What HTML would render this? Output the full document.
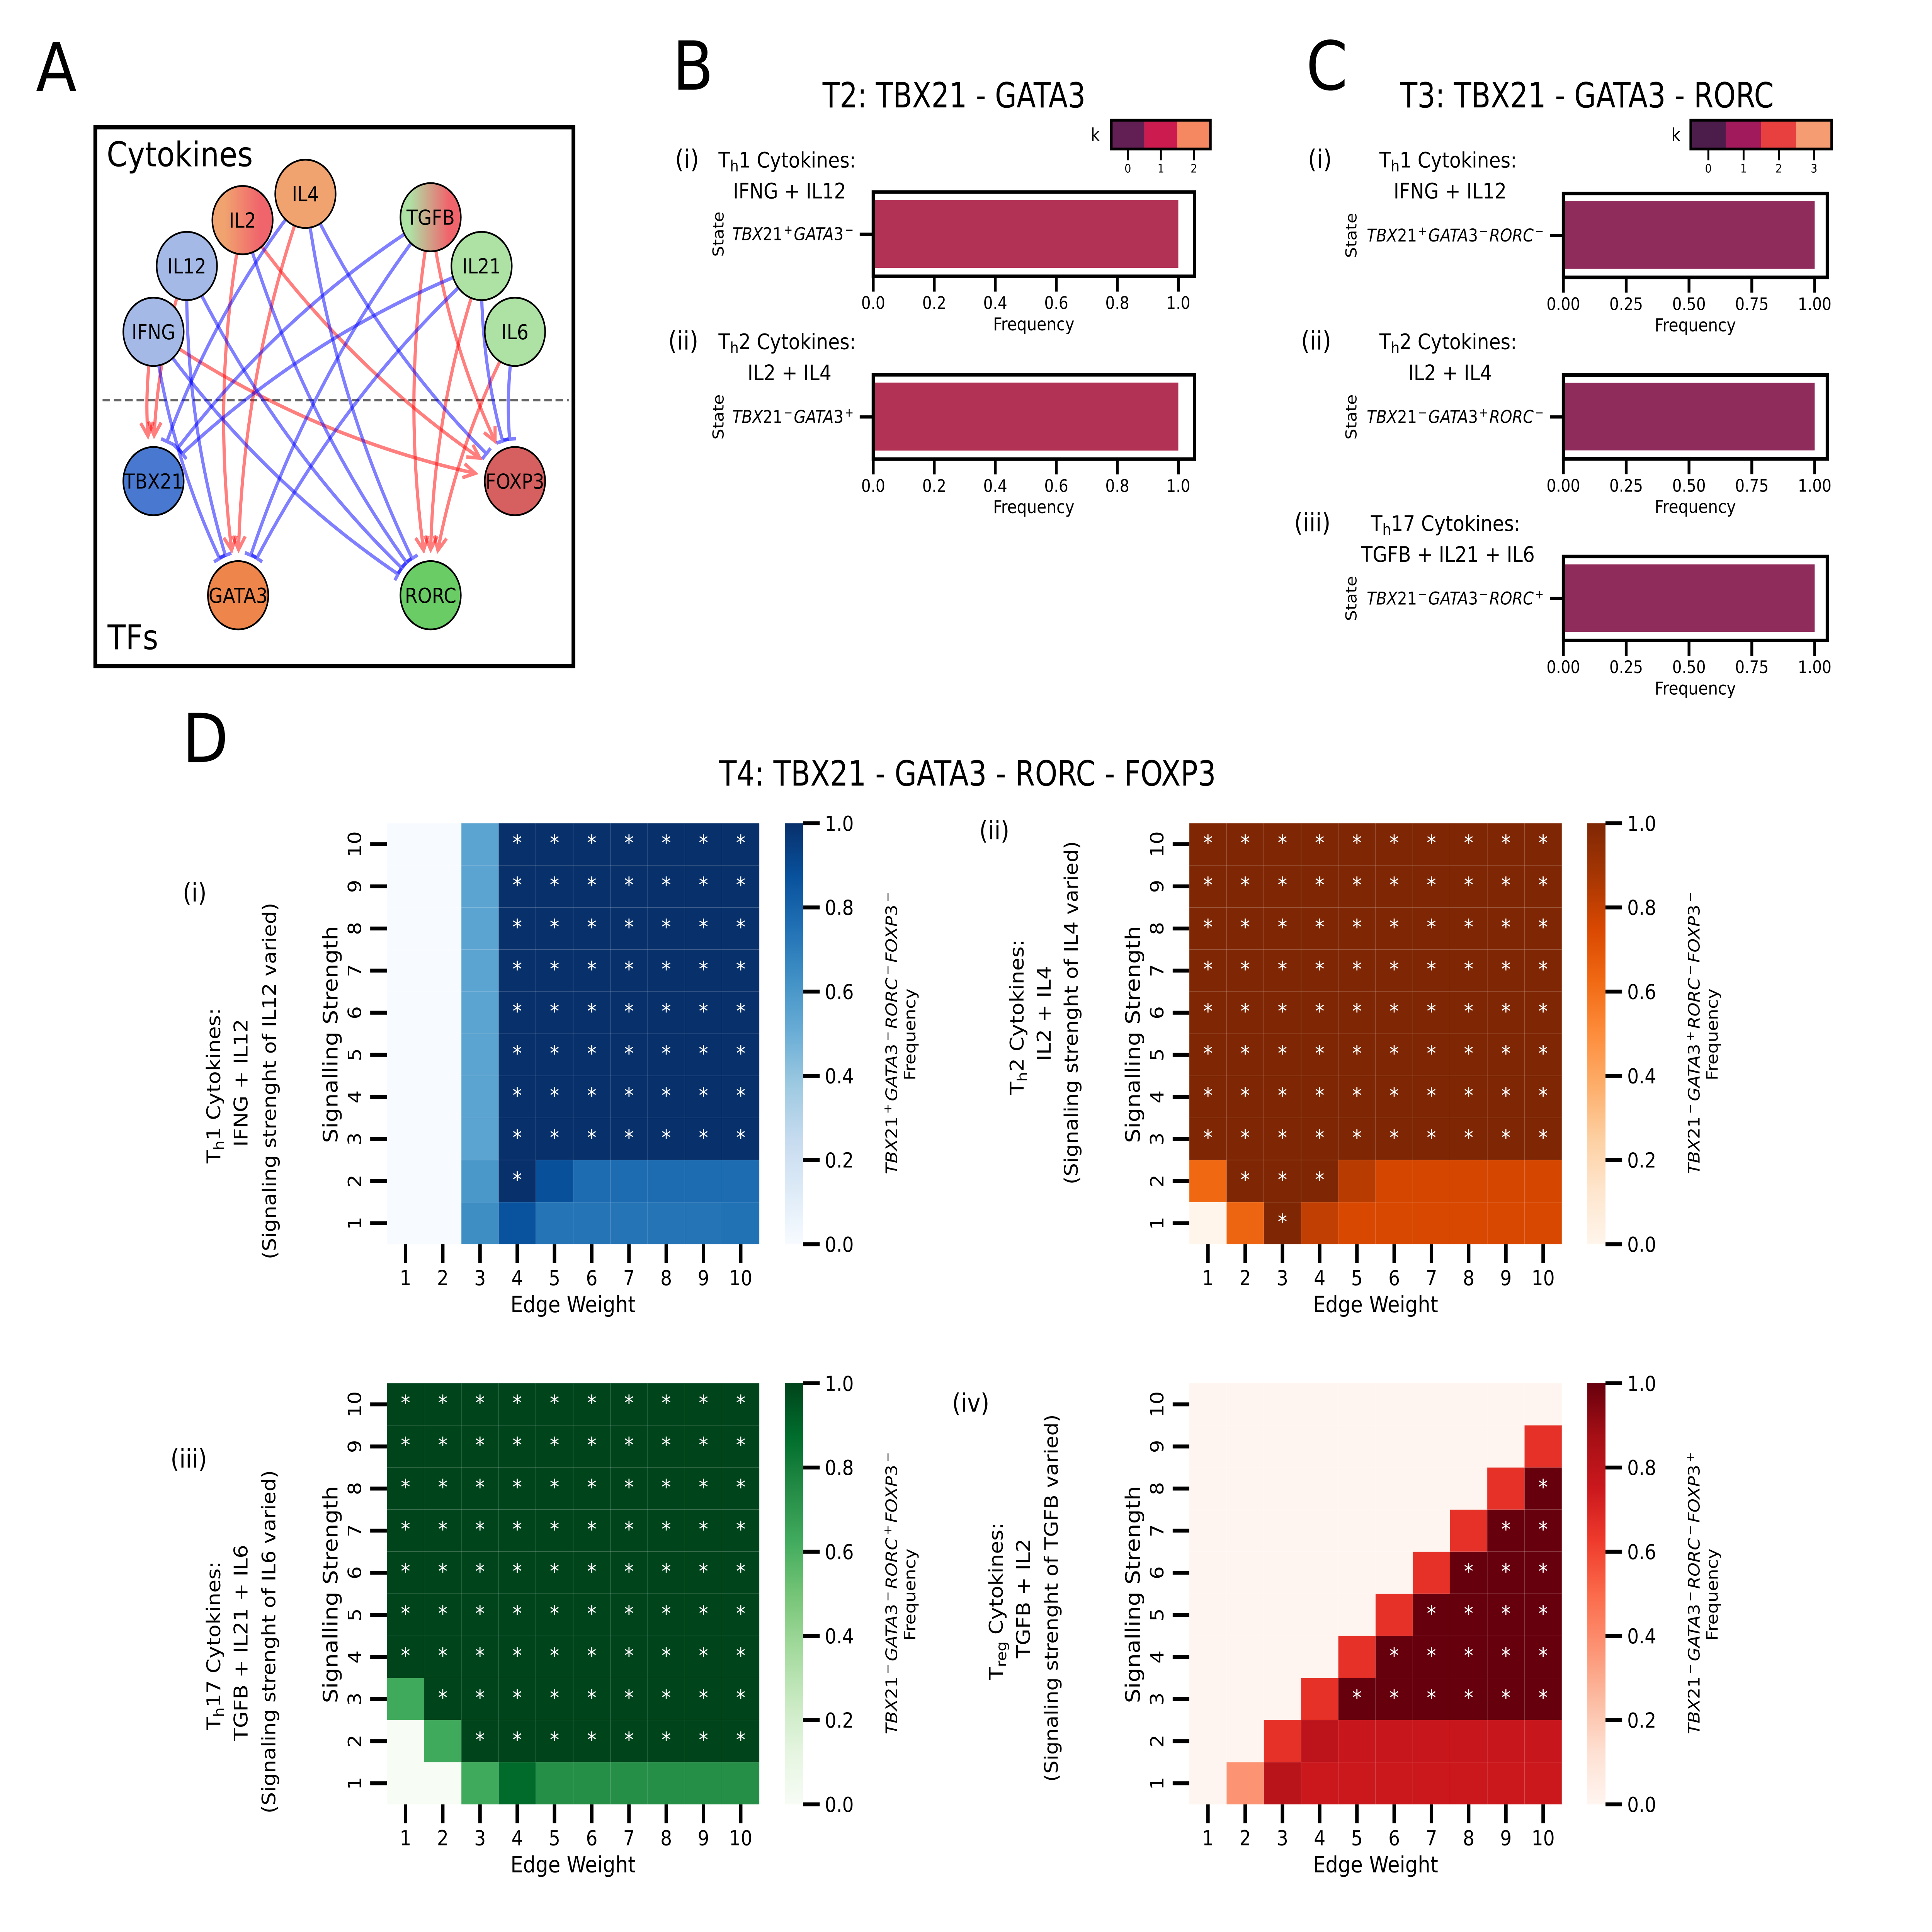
<!DOCTYPE html>
<html lang="en">
<head>
<meta charset="utf-8">
<title>T helper cell network and state frequency figure</title>
<style>
html,body{margin:0;padding:0;background:#fff;width:100%;height:100%;overflow:hidden;}
svg{display:block;width:100vw;height:100vh;}
text{font-family:"DejaVu Sans","Liberation Sans",sans-serif;fill:#000;}
</style>
</head>
<body>
<svg id="figure" xmlns="http://www.w3.org/2000/svg" viewBox="0 0 6142 5433" preserveAspectRatio="none">
<defs>
<linearGradient id="grad-il2" x1="0" x2="1" y1="0" y2="0"><stop offset="0.2" stop-color="#f0a36f"/><stop offset="0.8" stop-color="#f0646c"/></linearGradient>
<linearGradient id="grad-tgfb" x1="0" x2="1" y1="0" y2="0"><stop offset="0.15" stop-color="#aee2a5"/><stop offset="0.8" stop-color="#f0646c"/></linearGradient>
</defs>
<rect x="0" y="0" width="6142" height="5433" fill="#fff"/>

<!-- Panel letters -->
<text x="114" y="256" font-size="190">A</text>
<text x="2138" y="252" font-size="190">B</text>
<text x="4152" y="252" font-size="190">C</text>
<text x="580" y="2143" font-size="190">D</text>

<!-- Titles -->
<text x="3033" y="302" font-size="98" text-anchor="middle" textLength="836" lengthAdjust="spacingAndGlyphs">T2: TBX21 - GATA3</text>
<text x="5045" y="302" font-size="98" text-anchor="middle" textLength="1188" lengthAdjust="spacingAndGlyphs">T3: TBX21 - GATA3 - RORC</text>
<text x="3076" y="2209" font-size="98" text-anchor="middle" textLength="1579" lengthAdjust="spacingAndGlyphs">T4: TBX21 - GATA3 - RORC - FOXP3</text>

<!-- Panel A: network -->
<g>
<rect x="303" y="358" width="1520" height="1515" fill="none" stroke="#000" stroke-width="12"/>
<line x1="326" x2="1808" y1="1125" y2="1125" stroke="#666" stroke-width="7" stroke-dasharray="24 12"/>
<text x="339" y="468" font-size="96" textLength="465" lengthAdjust="spacingAndGlyphs">Cytokines</text>
<text x="342" y="1826" font-size="96" textLength="161" lengthAdjust="spacingAndGlyphs">TFs</text>
<g id="edges"></g>
<g id="nodes" stroke="#000" stroke-width="5">
<circle id="node-IL4" cx="971" cy="545" r="96" fill="#f0a36f"/>
<circle id="node-IL2" cx="771" cy="619" r="96" fill="url(#grad-il2)"/>
<circle id="node-IL12" cx="594" cy="748" r="96" fill="#a5b9e7"/>
<circle id="node-IFNG" cx="488" cy="933" r="96" fill="#a5b9e7"/>
<circle id="node-TGFB" cx="1369" cy="611" r="96" fill="url(#grad-tgfb)"/>
<circle id="node-IL21" cx="1531" cy="748" r="96" fill="#aee2a5"/>
<circle id="node-IL6" cx="1637" cy="933" r="96" fill="#aee2a5"/>
<circle id="node-TBX21" cx="488" cy="1353" r="96" fill="#4878d0"/>
<circle id="node-FOXP3" cx="1637" cy="1353" r="96" fill="#d65f5f"/>
<circle id="node-GATA3" cx="757" cy="1674" r="96" fill="#ee854a"/>
<circle id="node-RORC" cx="1369" cy="1674" r="96" fill="#6acc64"/>
</g>
<g font-size="58" text-anchor="middle">
<text x="971" y="566">IL4</text>
<text x="771" y="640">IL2</text>
<text x="594" y="769">IL12</text>
<text x="488" y="954">IFNG</text>
<text x="1369" y="632">TGFB</text>
<text x="1531" y="769">IL21</text>
<text x="1637" y="954">IL6</text>
<text x="488" y="1374">TBX21</text>
<text x="1637" y="1374">FOXP3</text>
<text x="757" y="1695">GATA3</text>
<text x="1369" y="1695">RORC</text>
</g>
</g>

<!-- Panel B side labels -->
<g font-size="60">
<text x="2146" y="472" font-size="72">(i)</text>
<text x="2284" y="471">T<tspan dy="11" font-size="44">h</tspan><tspan dy="-11">1 Cytokines:</tspan></text>
<text x="2510" y="558" text-anchor="middle">IFNG + IL12</text>
<text x="2124" y="983" font-size="72">(ii)</text>
<text x="2284" y="982">T<tspan dy="11" font-size="44">h</tspan><tspan dy="-11">2 Cytokines:</tspan></text>
<text x="2510" y="1069" text-anchor="middle">IL2 + IL4</text>
</g>

<!-- Panel C side labels -->
<g font-size="60">
<text x="4158" y="472" font-size="72">(i)</text>
<text x="4385" y="471">T<tspan dy="11" font-size="44">h</tspan><tspan dy="-11">1 Cytokines:</tspan></text>
<text x="4610" y="558" text-anchor="middle">IFNG + IL12</text>
<text x="4136" y="983" font-size="72">(ii)</text>
<text x="4385" y="982">T<tspan dy="11" font-size="44">h</tspan><tspan dy="-11">2 Cytokines:</tspan></text>
<text x="4610" y="1069" text-anchor="middle">IL2 + IL4</text>
<text x="4114" y="1494" font-size="72">(iii)</text>
<text x="4358" y="1493">T<tspan dy="11" font-size="44">h</tspan><tspan dy="-11">17 Cytokines:</tspan></text>
<text x="4603" y="1580" text-anchor="middle">TGFB + IL21 + IL6</text>
</g>

<!-- Panel D side labels -->
<g font-size="60" text-anchor="middle">
<text x="619" y="2535" font-size="72">(i)</text>
<g>
<text transform="translate(700,3053) rotate(-90)">T<tspan dy="11" font-size="44">h</tspan><tspan dy="-11">1 Cytokines:</tspan></text>
<text transform="translate(787,3045) rotate(-90)">IFNG + IL12</text>
<text transform="translate(877,3040) rotate(-90)" font-size="58.6">(Signaling strenght of IL12 varied)</text>
</g>
<text x="3161" y="2360" font-size="72">(ii)</text>
<g>
<text transform="translate(3254,2860) rotate(-90)">T<tspan dy="11" font-size="44">h</tspan><tspan dy="-11">2 Cytokines:</tspan></text>
<text transform="translate(3340,2850) rotate(-90)">IL2 + IL4</text>
<text transform="translate(3426,2848) rotate(-90)" font-size="58.6">(Signaling strenght of IL4 varied)</text>
</g>
<text x="600" y="4127" font-size="72">(iii)</text>
<g>
<text transform="translate(700,4628) rotate(-90)">T<tspan dy="11" font-size="44">h</tspan><tspan dy="-11">17 Cytokines:</tspan></text>
<text transform="translate(787,4620) rotate(-90)">TGFB + IL21 + IL6</text>
<text transform="translate(875,4617) rotate(-90)" font-size="58.6">(Signaling strenght of IL6 varied)</text>
</g>
<text x="3086" y="3970" font-size="72">(iv)</text>
<g>
<text transform="translate(3188,4503) rotate(-90)">T<tspan dy="11" font-size="44">reg</tspan><tspan dy="-11"> Cytokines:</tspan></text>
<text transform="translate(3274,4495) rotate(-90)">TGFB + IL2</text>
<text transform="translate(3363,4494) rotate(-90)" font-size="58.6">(Signaling strenght of TGFB varied)</text>
</g>
</g>

<g id="t2-charts"></g>
<g id="t3-charts"></g>
<g id="t4-charts"></g>
</svg>

<script>
/* ---------- Network edges (source, target) ---------- */
const activatingEdges = [
  ["IFNG","TBX21"],["IL12","TBX21"],["IFNG","FOXP3"],["IL2","GATA3"],["IL4","GATA3"],
  ["IL2","FOXP3"],["TGFB","RORC"],["TGFB","FOXP3"],["IL21","RORC"],["IL6","RORC"]
];
const inhibitingEdges = [
  ["IFNG","GATA3"],["IFNG","RORC"],["IL12","GATA3"],["IL12","RORC"],["IL2","RORC"],
  ["IL4","TBX21"],["IL4","RORC"],["IL4","FOXP3"],["TGFB","TBX21"],["TGFB","GATA3"],
  ["IL21","TBX21"],["IL21","GATA3"],["IL21","FOXP3"],["IL6","FOXP3"]
];

/* ---------- T2 / T3 bar chart data ---------- */
const t2Genes = ["TBX21","GATA3"];
const t2States = [["+","−"],["−","+"]];
const t2Frequencies = [1.0,1.0];
const t2TickValues = [0,0.2,0.4,0.6,0.8,1.0];
const t2TickLabels = ["0.0","0.2","0.4","0.6","0.8","1.0"];
const t2KLabels = ["0","1","2"];
const t2KColors = ["#611f53","#cb1b4f","#f58860"];

const t3Genes = ["TBX21","GATA3","RORC"];
const t3States = [["+","−","−"],["−","+","−"],["−","−","+"]];
const t3Frequencies = [1.0,1.0,1.0];
const t3TickValues = [0,0.25,0.5,0.75,1.0];
const t3TickLabels = ["0.00","0.25","0.50","0.75","1.00"];
const t3KLabels = ["0","1","2","3"];
const t3KColors = ["#4c1d4b","#a11a5b","#e83f3f","#f69c73"];

/* ---------- T4 heatmap data: first row is signalling strength 10 ---------- */
const edgeWeights = ["1","2","3","4","5","6","7","8","9","10"];
const signalStrengths = ["10","9","8","7","6","5","4","3","2","1"];
const colorbarTicks = [0,0.2,0.4,0.6,0.8,1.0];
const colorbarTickLabels = ["0.0","0.2","0.4","0.6","0.8","1.0"];

const th1Frequency = [
  [0,0,0.55,1,1,1,1,1,1,1],
  [0,0,0.55,1,1,1,1,1,1,1],
  [0,0,0.55,1,1,1,1,1,1,1],
  [0,0,0.55,1,1,1,1,1,1,1],
  [0,0,0.55,1,1,1,1,1,1,1],
  [0,0,0.55,1,1,1,1,1,1,1],
  [0,0,0.55,1,1,1,1,1,1,1],
  [0,0,0.55,1,1,1,1,1,1,1],
  [0,0,0.6,1,0.88,0.77,0.77,0.77,0.77,0.77],
  [0,0,0.64,0.87,0.74,0.74,0.74,0.74,0.74,0.75]
];
const th2Frequency = [
  [1,1,1,1,1,1,1,1,1,1],
  [1,1,1,1,1,1,1,1,1,1],
  [1,1,1,1,1,1,1,1,1,1],
  [1,1,1,1,1,1,1,1,1,1],
  [1,1,1,1,1,1,1,1,1,1],
  [1,1,1,1,1,1,1,1,1,1],
  [1,1,1,1,1,1,1,1,1,1],
  [1,1,1,1,1,1,1,1,1,1],
  [0.63,1,1,1,0.83,0.76,0.76,0.76,0.76,0.76],
  [0,0.64,1,0.81,0.75,0.75,0.75,0.75,0.75,0.75]
];
const th17Frequency = [
  [1,1,1,1,1,1,1,1,1,1],
  [1,1,1,1,1,1,1,1,1,1],
  [1,1,1,1,1,1,1,1,1,1],
  [1,1,1,1,1,1,1,1,1,1],
  [1,1,1,1,1,1,1,1,1,1],
  [1,1,1,1,1,1,1,1,1,1],
  [1,1,1,1,1,1,1,1,1,1],
  [0.63,1,1,1,1,1,1,1,1,1],
  [0,0.63,1,1,1,1,1,1,1,1],
  [0,0,0.63,0.88,0.74,0.74,0.74,0.74,0.74,0.74]
];
const tregFrequency = [
  [0,0,0,0,0,0,0,0,0,0],
  [0,0,0,0,0,0,0,0,0,0.66],
  [0,0,0,0,0,0,0,0,0.66,1],
  [0,0,0,0,0,0,0,0.66,1,1],
  [0,0,0,0,0,0,0.66,1,1,1],
  [0,0,0,0,0,0.66,1,1,1,1],
  [0,0,0,0,0.66,1,1,1,1,1],
  [0,0,0,0.66,1,1,1,1,1,1],
  [0,0,0.66,0.8,0.76,0.76,0.76,0.76,0.76,0.76],
  [0,0.37,0.81,0.75,0.75,0.75,0.75,0.75,0.75,0.75]
];

const bluesStops = ["#f7fbff","#deebf7","#c6dbef","#9ecae1","#6baed6","#4292c6","#2171b5","#08519c","#08306b"];
const orangesStops = ["#fff5eb","#fee6ce","#fdd0a2","#fdae6b","#fd8d3c","#f16913","#d94801","#a63603","#7f2704"];
const greensStops = ["#f7fcf5","#e5f5e0","#c7e9c0","#a1d99b","#74c476","#41ab5d","#238b45","#006d2c","#00441b"];
const redsStops = ["#fff5f0","#fee0d2","#fcbba1","#fc9272","#fb6a4a","#ef3b2c","#cb181d","#a50f15","#67000d"];

const starThreshold = 0.95;

/* ---------- helpers ---------- */
const SVG_NS = "http://www.w3.org/2000/svg";
function make(tag, attrs, parent) {
  const node = document.createElementNS(SVG_NS, tag);
  for (const k in attrs) node.setAttribute(k, attrs[k]);
  if (parent) parent.appendChild(node);
  return node;
}
function hexToRgb(h) {
  return [parseInt(h.slice(1,3),16),parseInt(h.slice(3,5),16),parseInt(h.slice(5,7),16)];
}
function cmap(stops, v) {
  const p = Math.max(0, Math.min(1, v)) * (stops.length - 1);
  const i = Math.min(Math.floor(p), stops.length - 2);
  const f = p - i;
  const a = hexToRgb(stops[i]), b = hexToRgb(stops[i + 1]);
  return "rgb(" + a.map((c, n) => Math.round(c + (b[n] - c) * f)).join(",") + ")";
}
function writeStateLabel(textEl, genes, signs, size, gap) {
  genes.forEach(function (gene, i) {
    const m = gene.match(/^([A-Z]+?)(\d*)$/);
    const geneAttrs = {"font-style":"italic"};
    if (i > 0) {
      geneAttrs.dy = size * 0.36;
      geneAttrs.dx = size * gap;
    }
    const it = make("tspan", geneAttrs, textEl);
    it.textContent = m[1];
    if (m[2]) {
      const num = make("tspan", {}, textEl);
      num.textContent = m[2];
    }
    const sup = make("tspan", {dy: -size * 0.36, dx: size * gap, "font-size": size * 0.7}, textEl);
    sup.textContent = signs[i];
  });
}

/* ---------- network ---------- */
function nodePos(name) {
  const c = document.getElementById("node-" + name);
  return [parseFloat(c.getAttribute("cx")), parseFloat(c.getAttribute("cy"))];
}
function truncatedCurve(a, b, gap) {
  const mx = (a[0] + b[0]) / 2, my = (a[1] + b[1]) / 2;
  const rad = 0.1;
  const c = [mx - rad * (b[1] - a[1]), my + rad * (b[0] - a[0])];
  let t = 1;
  const at = u => [
    (1-u)*(1-u)*a[0] + 2*(1-u)*u*c[0] + u*u*b[0],
    (1-u)*(1-u)*a[1] + 2*(1-u)*u*c[1] + u*u*b[1]
  ];
  while (t > 0) {
    const p = at(t);
    if (Math.hypot(p[0]-b[0], p[1]-b[1]) >= gap) break;
    t -= 0.001;
  }
  const ctrl = [a[0] + (c[0]-a[0]) * t, a[1] + (c[1]-a[1]) * t];
  const end = at(t);
  const len = Math.hypot(end[0]-ctrl[0], end[1]-ctrl[1]);
  return {ctrl: ctrl, end: end, dir: [(end[0]-ctrl[0])/len, (end[1]-ctrl[1])/len]};
}
const edgeLayer = document.getElementById("edges");
function f1(n){ return n.toFixed(1); }
activatingEdges.forEach(function (edge) {
  const a = nodePos(edge[0]), b = nodePos(edge[1]);
  const k = truncatedCurve(a, b, 128);
  const w1 = [k.end[0]-k.dir[0]*38-k.dir[1]*20, k.end[1]-k.dir[1]*38+k.dir[0]*20];
  const w2 = [k.end[0]-k.dir[0]*38+k.dir[1]*20, k.end[1]-k.dir[1]*38-k.dir[0]*20];
  const d = "M"+f1(a[0])+" "+f1(a[1])+"Q"+f1(k.ctrl[0])+" "+f1(k.ctrl[1])+" "+f1(k.end[0])+" "+f1(k.end[1])+
            "M"+f1(w1[0])+" "+f1(w1[1])+"L"+f1(k.end[0])+" "+f1(k.end[1])+"L"+f1(w2[0])+" "+f1(w2[1]);
  const path = make("path", {d:d, fill:"none", stroke:"#ff0000", "stroke-opacity":0.5, "stroke-width":10}, edgeLayer);
  
  
});
inhibitingEdges.forEach(function (edge) {
  const a = nodePos(edge[0]), b = nodePos(edge[1]);
  const k = truncatedCurve(a, b, 119);
  const w1 = [k.end[0]-k.dir[1]*20, k.end[1]+k.dir[0]*20];
  const w2 = [k.end[0]+k.dir[1]*20, k.end[1]-k.dir[0]*20];
  const d = "M"+f1(a[0])+" "+f1(a[1])+"Q"+f1(k.ctrl[0])+" "+f1(k.ctrl[1])+" "+f1(k.end[0])+" "+f1(k.end[1])+
            "M"+f1(w1[0])+" "+f1(w1[1])+"L"+f1(w2[0])+" "+f1(w2[1]);
  const path = make("path", {d:d, fill:"none", stroke:"#0000ff", "stroke-opacity":0.5, "stroke-width":10}, edgeLayer);
  
  
});

/* ---------- bar charts ---------- */
function drawBarAxes(parent, freq, genes, signs, tickValues, tickLabels, color, ax) {
  const g = make("g", {}, parent);
  
  
  const xScale = v => ax.zero + v * (ax.one - ax.zero);
  const midY = (ax.top + ax.bottom) / 2;
  const bar = make("rect", {x: xScale(0), y: ax.top + 22, width: xScale(freq) - xScale(0), height: ax.bottom - ax.top - 46, fill: color}, g);
  
  
  const frame = make("rect", {x: ax.zero, y: ax.top, width: ax.right - ax.zero, height: ax.bottom - ax.top, fill: "none", stroke: "#000", "stroke-width": 10}, g);
  
  
  const yTick = make("line", {x1: ax.zero - 43, x2: ax.zero, y1: midY, y2: midY, stroke: "#000", "stroke-width": 9}, g);
  
  
  const stateLabel = make("text", {x: ax.labelEnd, y: midY + 17, "font-size": 49, "text-anchor": "end"}, g);
  
  
  writeStateLabel(stateLabel, genes, signs, 49, 0.075);
  const yTitle = make("text", {transform: "translate(" + ax.stateX + "," + midY + ") rotate(-90)", "font-size": 48, "text-anchor": "middle"}, g);
  
  
  yTitle.textContent = "State";
  tickValues.forEach(function (v, i) {
    const tick = make("line", {x1: xScale(v), x2: xScale(v), y1: ax.bottom, y2: ax.bottom + 43, stroke: "#000", "stroke-width": 9}, g);
    
    
    const lab = make("text", {x: xScale(v), y: ax.bottom + 92, "font-size": 48, "text-anchor": "middle"}, g);
    
    
    lab.textContent = tickLabels[i];
  });
  const xTitle = make("text", {x: (ax.zero + ax.right) / 2, y: ax.bottom + 152, "font-size": 50, "text-anchor": "middle"}, g);
  
  
  xTitle.textContent = "Frequency";
}
function drawKLegend(parent, colors, labels, left, cellW, top, bottom, kX) {
  const g = make("g", {}, parent);
  
  
  colors.forEach(function (col, i) {
    const cell = make("rect", {x: left + i * cellW, y: top, width: cellW, height: bottom - top, fill: col}, g);
    
    
    const cx = left + (i + 0.5) * cellW;
    const tick = make("line", {x1: cx, x2: cx, y1: bottom, y2: bottom + 32, stroke: "#000", "stroke-width": 6}, g);
    
    
    const lab = make("text", {x: cx, y: bottom + 66, "font-size": 33, "text-anchor": "middle"}, g);
    
    
    lab.textContent = labels[i];
  });
  const frame = make("rect", {x: left, y: top, width: colors.length * cellW, height: bottom - top, fill: "none", stroke: "#000", "stroke-width": 8}, g);
  
  
  const k = make("text", {x: kX, y: (top + bottom) / 2 + 18, "font-size": 50, "text-anchor": "middle"}, g);
  
  
  k.textContent = "k";
}
const t2Group = document.getElementById("t2-charts");
t2Frequencies.forEach(function (f, i) {
  const top = 540 + i * 514;
  drawBarAxes(t2Group, f, t2Genes, t2States[i], t2TickValues, t2TickLabels, "#b23256",
    {zero: 2776, one: 3746, right: 3797, top: top, bottom: top + 237, labelEnd: 2714, stateX: 2300});
});
drawKLegend(t2Group, t2KColors, t2KLabels, 3533, 105, 338, 419, 3482);

const t3Group = document.getElementById("t3-charts");
t3Frequencies.forEach(function (f, i) {
  const top = 544 + i * 510.5;
  drawBarAxes(t3Group, f, t3Genes, t3States[i], t3TickValues, t3TickLabels, "#902c5c",
    {zero: 4970, one: 5769, right: 5809, top: top, bottom: top + 236, labelEnd: 4908, stateX: 4312});
});
drawKLegend(t3Group, t3KColors, t3KLabels, 5375, 112, 338, 419, 5328);

/* ---------- heatmaps ---------- */
const gradientDefs = document.querySelector("defs");
function drawHeatmap(values, stops, geneList, signs, id, x0, y0) {
  const size = 1184;
  const cell = size / 10;
  const g = make("g", {}, document.getElementById("t4-charts"));
  
  
  const xScale = i => x0 + (i + 0.5) * cell;
  const yScale = i => y0 + (i + 0.5) * cell;
  const cbarY = v => y0 + size - v * size;

  values.forEach(function (row, r) {
    row.forEach(function (v, c) {
      const rect = make("rect", {x: xScale(c) - cell / 2, y: yScale(r) - cell / 2, width: cell, height: cell, fill: cmap(stops, v), stroke: "#fff", "stroke-opacity": 0.14, "stroke-width": 1.2}, g);
      
      
    });
  });
  values.forEach(function (row, r) {
    row.forEach(function (v, c) {
      if (v < starThreshold) return;
      const star = make("text", {x: xScale(c), y: yScale(r) + 17, "font-size": 60, "text-anchor": "middle", style: "fill:#fff"}, g);
      
      
      star.textContent = "*";
    });
  });
  edgeWeights.forEach(function (lab, i) {
    const tick = make("line", {x1: xScale(i), x2: xScale(i), y1: y0 + size, y2: y0 + size + 53, stroke: "#000", "stroke-width": 11}, g);
    
    
    const t = make("text", {x: xScale(i), y: y0 + size + 115, "font-size": 58, "text-anchor": "middle"}, g);
    
    
    t.textContent = lab;
  });
  signalStrengths.forEach(function (lab, i) {
    const tick = make("line", {x1: x0 - 53, x2: x0, y1: yScale(i), y2: yScale(i), stroke: "#000", "stroke-width": 11}, g);
    
    
    const t = make("text", {transform: "translate(" + (x0 - 82) + "," + yScale(i) + ") rotate(-90)", "font-size": 58, "text-anchor": "middle"}, g);
    
    
    t.textContent = lab;
  });
  const xTitle = make("text", {x: x0 + 592, y: y0 + size + 191, "font-size": 63, "text-anchor": "middle"}, g);
  
  
  xTitle.textContent = "Edge Weight";
  const yTitle = make("text", {transform: "translate(" + (x0 - 157) + "," + (y0 + 594) + ") rotate(-90)", "font-size": 64, "text-anchor": "middle"}, g);
  
  
  yTitle.textContent = "Signalling Strength";

  const grad = make("linearGradient", {id: id, x1: 0, x2: 0, y1: 1, y2: 0}, gradientDefs);
  stops.forEach(function (col, i) {
    make("stop", {offset: i / (stops.length - 1), "stop-color": col}, grad);
  });
  const cbar = make("rect", {x: x0 + 1265, y: y0, width: 58, height: size, fill: "url(#" + id + ")"}, g);
  
  
  colorbarTicks.forEach(function (v, i) {
    const tick = make("line", {x1: x0 + 1323, x2: x0 + 1376, y1: cbarY(v), y2: cbarY(v), stroke: "#000", "stroke-width": 11}, g);
    
    
    const t = make("text", {x: x0 + 1392, y: cbarY(v) + 21, "font-size": 58}, g);
    
    
    t.textContent = colorbarTickLabels[i];
  });
  const gene = make("text", {transform: "translate(" + (x0 + 1622) + "," + (y0 + 590) + ") rotate(-90)", "font-size": 50, "text-anchor": "middle"}, g);
  
  
  writeStateLabel(gene, geneList, signs, 50, 0.13);
  const freq = make("text", {transform: "translate(" + (x0 + 1680) + "," + (y0 + 594) + ") rotate(-90)", "font-size": 50, "text-anchor": "middle"}, g);
  
  
  freq.textContent = "Frequency";
}
const t4Genes = ["TBX21","GATA3","RORC","FOXP3"];
drawHeatmap(th1Frequency, bluesStops, t4Genes, ["+","−","−","−"], "cbar-blues", 1230, 2315);
drawHeatmap(th2Frequency, orangesStops, t4Genes, ["−","+","−","−"], "cbar-oranges", 3781, 2315);
drawHeatmap(th17Frequency, greensStops, t4Genes, ["−","−","+","−"], "cbar-greens", 1230, 3890);
drawHeatmap(tregFrequency, redsStops, t4Genes, ["−","−","−","+"], "cbar-reds", 3781, 3890);
</script>
</body>
</html>
